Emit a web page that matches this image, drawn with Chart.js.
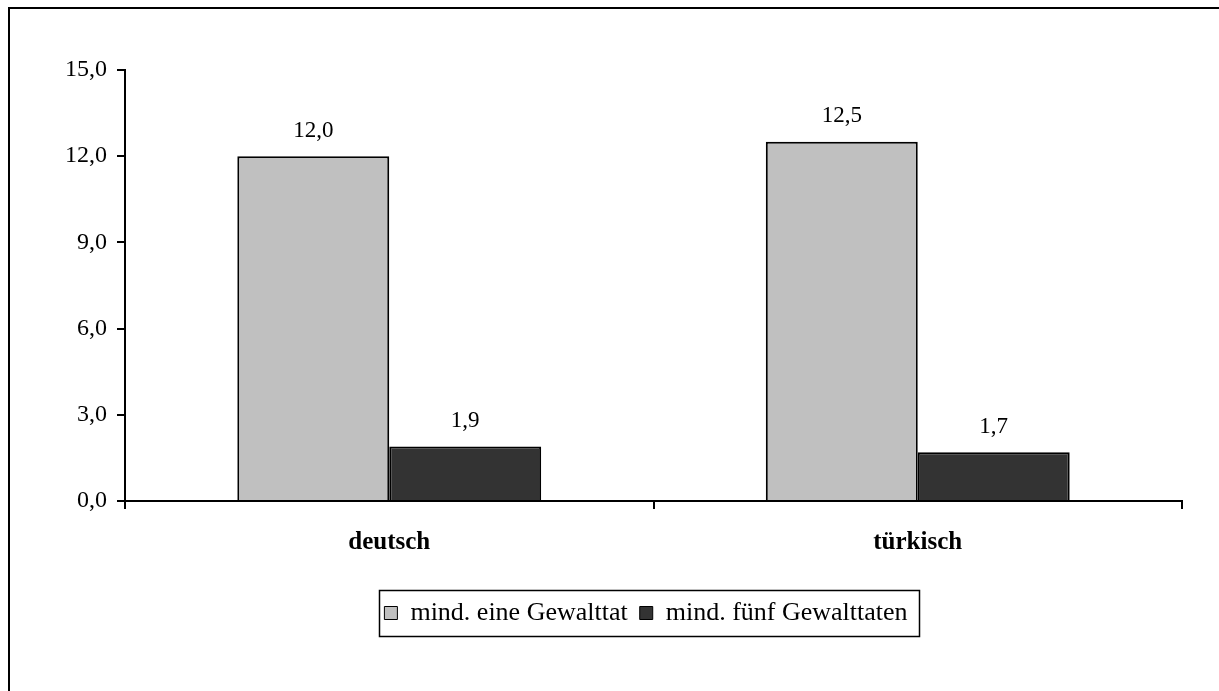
<!DOCTYPE html>
<html>
<head>
<meta charset="utf-8">
<script src="https://cdn.jsdelivr.net/npm/chart.js@4.4.1/dist/chart.umd.min.js"></script>
<style>
  html, body { margin: 0; padding: 0; background: #fff; overflow: hidden; }
  #wrap { position: relative; width: 1219px; height: 691px; }
  #frame { position: absolute; left: 8px; top: 7px; width: 1300px; height: 800px;
           border-left: 2px solid #000; border-top: 2px solid #000; box-sizing: border-box; }
  canvas { position: absolute; left: 0; top: 0; }
</style>
</head>
<body>
<div id="wrap">
  <div id="frame"></div>
  <canvas id="c" width="1219" height="691"></canvas>
</div>
<script>
const categories = ['deutsch', 'türkisch'];
const seriesNames = ['mind. eine Gewalttat', 'mind. fünf Gewalttaten'];
const atLeastOne = [12.0, 12.5];
const atLeastFive = [1.9, 1.7];
const yTicks = [0, 3, 6, 9, 12, 15];

const FONT = "'Liberation Serif', 'Times New Roman', serif";
const fmt = v => v.toFixed(1).replace('.', ',');

const valueLabels = {
  id: 'valueLabels',
  afterDatasetsDraw(chart) {
    const ctx = chart.ctx;
    ctx.save();
    ctx.font = '23px ' + FONT;
    ctx.fillStyle = '#000';
    ctx.textAlign = 'center';
    ctx.textBaseline = 'bottom';
    chart.data.datasets.forEach((ds, i) => {
      chart.getDatasetMeta(i).data.forEach((bar, j) => {
        ctx.fillText(fmt(ds.data[j]), bar.x, bar.y - 14);
      });
    });
    ctx.restore();
  }
};

// shift legend to the right (centred under the plot like the reference) and frame it
const LEGEND_SHIFT = 55;
const legendBox = {
  id: 'legendBox',
  afterLayout(chart) {
    const lg = chart.legend;
    if (!lg) return;
    lg.left += LEGEND_SHIFT;
    lg.right += LEGEND_SHIFT;
    (lg.legendHitBoxes || []).forEach(h => { h.left += LEGEND_SHIFT; });
  },
  afterDraw(chart) {
    const hb = chart.legend && chart.legend.legendHitBoxes;
    if (!hb || !hb.length) return;
    const first = hb[0], last = hb[hb.length - 1];
    const ctx = chart.ctx;
    ctx.save();
    ctx.strokeStyle = '#000';
    ctx.lineWidth = 1.5;
    const l = first.left - 5, r = last.left + last.width + 12;
    const t = first.top - 10, b = first.top + first.height + 10;
    ctx.strokeRect(Math.round(l) + 0.5, Math.round(t) + 0.5, Math.round(r - l), Math.round(b - t));
    ctx.restore();
  }
};

new Chart(document.getElementById('c'), {
  type: 'bar',
  data: {
    labels: categories,
    datasets: [
      { label: seriesNames[0], data: atLeastOne, backgroundColor: '#C0C0C0', borderColor: '#000', borderWidth: 2 },
      { label: seriesNames[1], data: atLeastFive, backgroundColor: '#333333', borderColor: '#000', borderWidth: 2 }
    ]
  },
  options: {
    responsive: false,
    animation: false,
    devicePixelRatio: 1,
    layout: { padding: { left: 0, right: 37, top: 70, bottom: 55 } },
    datasets: { bar: { categoryPercentage: 0.575, barPercentage: 1.0 } },
    scales: {
      x: {
        grid: { display: true, drawOnChartArea: false, drawTicks: true, tickLength: 8, color: '#000', lineWidth: 2, offset: true },
        border: { display: true, color: '#000', width: 2 },
        ticks: { color: '#000', font: { family: FONT, size: 25, weight: 'bold' }, padding: 19 },
        afterFit(scale) { scale.height = 87; }
      },
      y: {
        min: 0, max: 15,
        afterBuildTicks(scale) { scale.ticks = yTicks.map(v => ({ value: v })); },
        grid: { display: true, drawOnChartArea: false, drawTicks: true, tickLength: 8, color: '#000', lineWidth: 2 },
        border: { display: true, color: '#000', width: 2 },
        ticks: { color: '#000', font: { family: FONT, size: 24 }, padding: 10, callback: v => fmt(v) },
        afterFit(scale) { scale.width = 125; }
      }
    },
    plugins: {
      legend: {
        position: 'bottom',
        labels: {
          color: '#000',
          font: { family: FONT, size: 26 },
          boxWidth: 13, boxHeight: 13, padding: 12,
          generateLabels(chart) {
            return chart.data.datasets.map((ds, i) => ({
              text: ds.label, fillStyle: ds.backgroundColor, strokeStyle: '#000',
              lineWidth: 1, hidden: false, datasetIndex: i, fontColor: '#000'
            }));
          }
        }
      },
      tooltip: { enabled: false }
    }
  },
  plugins: [valueLabels, legendBox]
});
</script>
</body>
</html>
